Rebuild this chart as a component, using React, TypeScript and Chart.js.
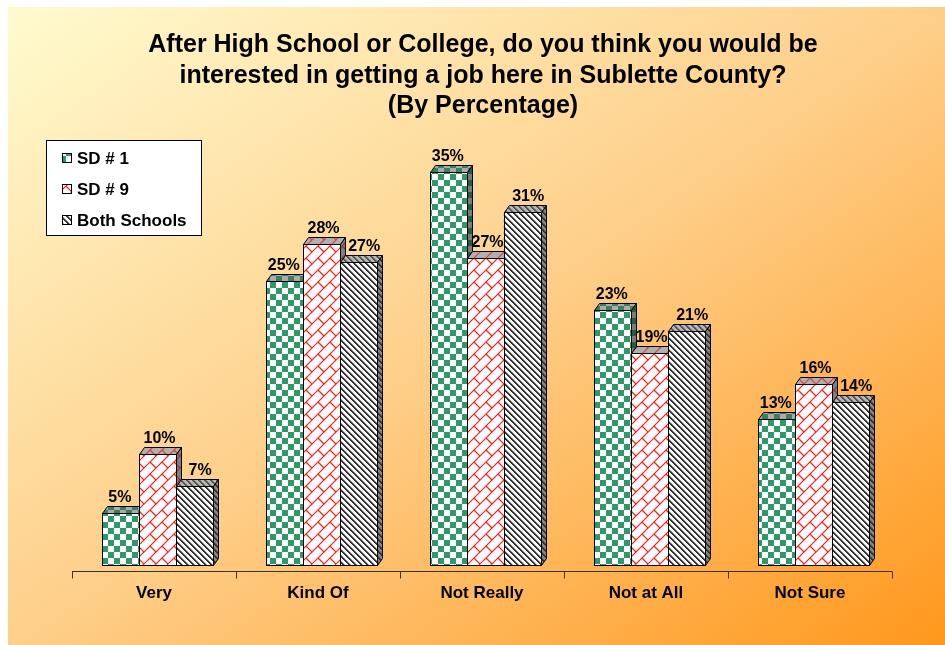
import React, { useEffect, useRef } from 'react';
import { Chart, registerables } from 'chart.js';

Chart.register(...registerables);

const TITLE_LINES = [
  'After High School or College, do you think you would be',
  'interested in getting a job here in Sublette County?',
  '(By Percentage)',
];
const CATEGORIES = ['Very', 'Kind Of', 'Not Really', 'Not at All', 'Not Sure'];
const SERIES_NAMES = ['SD # 1', 'SD # 9', 'Both Schools'];
const SD1 = [4.6, 25.1, 34.8, 22.6, 12.9];
const SD9 = [9.8, 28.4, 27.2, 18.8, 16.0];
const BOTH = [7.0, 26.8, 31.2, 20.7, 14.4];
const Y_MIN = 0;
const Y_MAX = 40;

const FONT = '"Liberation Sans", Arial, sans-serif';
const DX = 5;
const DY = 7;

type Shade = { fg: string; bg: string; mid?: string };

function tile(size: number, bg: string, draw: (g: CanvasRenderingContext2D) => void) {
  const c = document.createElement('canvas');
  c.width = size;
  c.height = size;
  const g = c.getContext('2d')!;
  g.fillStyle = bg;
  g.fillRect(0, 0, size, size);
  draw(g);
  return c;
}

function checker(s: Shade) {
  return tile(12, s.bg, (g) => {
    g.fillStyle = s.fg;
    g.fillRect(0, 0, 6, 6);
    g.fillRect(6, 6, 6, 6);
  });
}

function stripes(s: Shade) {
  return tile(6, s.bg, (g) => {
    for (let x = 0; x < 6; x++)
      for (let y = 0; y < 6; y++) {
        const m = (x - y + 60) % 6;
        if (m < 2) {
          g.fillStyle = s.fg;
          g.fillRect(x, y, 1, 1);
        } else if (m === 2) {
          g.fillStyle = s.mid || s.fg;
          g.fillRect(x, y, 1, 1);
        }
      }
  });
}

function brick(s: Shade) {
  const N = 24;
  const sp = 12;
  return tile(N, s.bg, (g) => {
    g.strokeStyle = s.fg;
    g.lineWidth = 1.2;
    g.beginPath();
    for (let c = -N; c <= 3 * N; c += sp) {
      g.moveTo(c + 3, -3);
      g.lineTo(c - N - 3, N + 3);
    }
    for (let k = -4; k <= 8; k++) {
      const s0 = k * sp;
      const s1 = s0 + sp;
      const off = ((k % 2) + 2) % 2 === 0 ? sp : 0;
      for (let d = -3 * N + off; d <= 3 * N; d += 2 * sp) {
        g.moveTo((s0 + d) / 2, (s0 - d) / 2);
        g.lineTo((s1 + d) / 2, (s1 - d) / 2);
      }
    }
    g.stroke();
  });
}

const SERIES_STYLE = [
  {
    make: checker,
    front: { fg: '#2E9966', bg: '#FFFFFF' },
    top: { fg: '#3A7F62', bg: '#ACACAC' },
    side: { fg: '#245C44', bg: '#7C7C7C' },
    labelDx: -1,
  },
  {
    make: brick,
    front: { fg: '#FF1A1A', bg: '#FFFFFF' },
    top: { fg: '#D84040', bg: '#B0B0B0' },
    side: { fg: '#A03030', bg: '#808080' },
    labelDx: 2,
  },
  {
    make: stripes,
    front: { fg: '#333333', bg: '#FFFFFF', mid: '#A0A0A0' },
    top: { fg: '#555555', bg: '#B8B8B8', mid: '#888888' },
    side: { fg: '#333333', bg: '#858585', mid: '#5C5C5C' },
    labelDx: 6,
  },
];

export default function App() {
  const ref = useRef<HTMLCanvasElement | null>(null);

  useEffect(() => {
    document.body.style.margin = '0';
    const canvas = ref.current!;
    const ctx = canvas.getContext('2d')!;
    const pat = (c: HTMLCanvasElement) => ctx.createPattern(c, 'repeat')!;
    const patterns = SERIES_STYLE.map((st) => ({
      front: pat(st.make(st.front)),
      top: pat(st.make(st.top)),
      side: pat(st.make(st.side)),
    }));
    const seriesValues = [SD1, SD9, BOTH];

    const decor = {
      id: 'decor',
      beforeDraw(chart: any) {
        const g = chart.ctx as CanvasRenderingContext2D;
        const W = chart.width;
        const H = chart.height;
        g.save();
        g.fillStyle = '#FFFFFF';
        g.fillRect(0, 0, W, H);
        const x0 = 8, y0 = 7;
        const w = W - x0, h = H - y0;
        const k = (2 * w * h) / (w * w + h * h);
        const grad = g.createLinearGradient(x0, y0, x0 + h * k, y0 + w * k);
        grad.addColorStop(0, '#FFFBCF');
        grad.addColorStop(0.5, '#FECF8A');
        grad.addColorStop(1, '#FF981C');
        g.fillStyle = grad;
        g.fillRect(x0, y0, w, h);

        // title
        g.fillStyle = '#000000';
        g.textAlign = 'center';
        g.textBaseline = 'alphabetic';
        g.font = `bold 25px ${FONT}`;
        const tx = 483;
        TITLE_LINES.forEach((t, i) => g.fillText(t, tx, 52 + i * 30.5));
        g.restore();
      },
      afterDatasetsDraw(chart: any) {
        const g = chart.ctx as CanvasRenderingContext2D;
        const xs = chart.scales.x;
        const area = chart.chartArea;
        g.save();
        // axis (front edge of the 3D floor)
        const axisShift = -3.5;
        const catW = (xs.right - xs.left) / CATEGORIES.length;
        const ay = Math.round(area.bottom + 6) + 0.5;
        g.strokeStyle = '#3A3028';
        g.lineWidth = 1;
        g.beginPath();
        g.moveTo(Math.round(xs.left + axisShift), ay);
        g.lineTo(Math.round(xs.right + axisShift), ay);
        for (let j = 0; j <= CATEGORIES.length; j++) {
          const bx = Math.round(xs.left + axisShift + j * catW) + 0.5;
          g.moveTo(bx, ay);
          g.lineTo(bx, ay + 7);
        }
        g.stroke();

        g.fillStyle = '#000000';
        g.font = `bold 17px ${FONT}`;
        g.textAlign = 'center';
        g.textBaseline = 'alphabetic';
        CATEGORIES.forEach((c, j) => {
          g.fillText(c, xs.getPixelForValue(j) + axisShift, 598);
        });

        // bars with 3D faces, drawn left to right
        g.lineWidth = 1;
        g.strokeStyle = '#000000';
        g.lineJoin = 'miter';
        for (let j = 0; j < CATEGORIES.length; j++) {
          for (let i = 0; i < seriesValues.length; i++) {
            const el = chart.getDatasetMeta(i).data[j];
            const L = Math.round(el.x - el.width / 2) + 0.5;
            const R = Math.round(el.x + el.width / 2) + 0.5;
            const T = Math.round(el.y) + 0.5;
            const B = Math.round(el.base) + 0.5;
            const p = patterns[i];
            g.fillStyle = p.front;
            g.fillRect(L, T, R - L, B - T);
            g.strokeRect(L, T, R - L, B - T);
            g.beginPath();
            g.moveTo(L, T);
            g.lineTo(L + DX, T - DY);
            g.lineTo(R + DX, T - DY);
            g.lineTo(R, T);
            g.closePath();
            g.fillStyle = p.top;
            g.fill();
            g.stroke();
            g.beginPath();
            g.moveTo(R, T);
            g.lineTo(R + DX, T - DY);
            g.lineTo(R + DX, B - DY);
            g.lineTo(R, B);
            g.closePath();
            g.fillStyle = p.side;
            g.fill();
            g.stroke();
          }
        }

        // value labels
        g.fillStyle = '#000000';
        g.font = `bold 16px ${FONT}`;
        g.textAlign = 'center';
        for (let i = 0; i < seriesValues.length; i++) {
          const meta = chart.getDatasetMeta(i);
          seriesValues[i].forEach((v, j) => {
            const el = meta.data[j];
            g.fillText(`${Math.round(v)}%`, el.x + SERIES_STYLE[i].labelDx, el.y - 11);
          });
        }

        // legend
        const lx = 46.5, ly = 140.5, lw = 155, lh = 95;
        g.fillStyle = '#FFFFFF';
        g.fillRect(lx, ly, lw, lh);
        g.strokeStyle = '#000000';
        g.strokeRect(lx, ly, lw, lh);
        g.textAlign = 'left';
        g.font = `bold 17px ${FONT}`;
        SERIES_NAMES.forEach((name, i) => {
          const cy = 158 + i * 31;
          g.fillStyle = patterns[i].front;
          g.fillRect(62.5, cy - 4.5, 9, 9);
          g.strokeStyle = '#000000';
          g.strokeRect(62.5, cy - 4.5, 9, 9);
          g.fillStyle = '#000000';
          g.fillText(name, 77, cy + 6);
        });
        g.restore();
      },
    };

    const chart = new Chart(ctx, {
      type: 'bar',
      data: {
        labels: CATEGORIES,
        datasets: SERIES_NAMES.map((name, i) => ({
          label: name,
          data: seriesValues[i],
          backgroundColor: patterns[i].front as any,
          borderWidth: 0,
          categoryPercentage: 0.671,
          barPercentage: 1,
        })),
      },
      options: {
        responsive: false,
        animation: false,
        devicePixelRatio: 1,
        layout: { padding: { left: 75.5, right: 49.5, top: 113, bottom: 80 } },
        plugins: {
          legend: { display: false },
          tooltip: { enabled: false },
          title: { display: false },
        },
        scales: {
          x: { display: false },
          y: { display: false, min: Y_MIN, max: Y_MAX },
        },
      },
      plugins: [decor],
    });
    return () => chart.destroy();
  }, []);

  return (
    <canvas
      ref={ref}
      width={945}
      height={645}
      style={{ display: 'block', position: 'fixed', left: 0, top: 0 }}
    />
  );
}
